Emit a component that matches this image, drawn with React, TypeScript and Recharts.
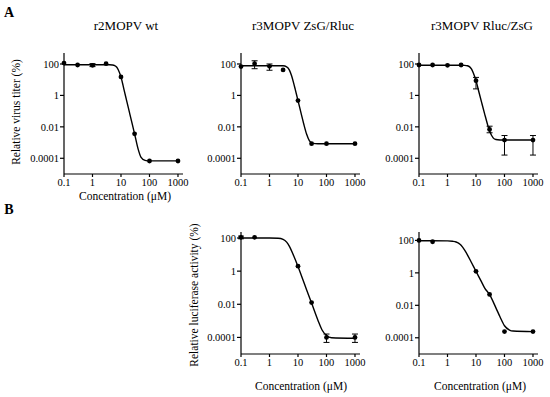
import React from 'react'
import { ComposedChart, Line, Scatter, XAxis, YAxis, ErrorBar } from 'recharts'

// concentrations (µM)
const concFull = [0.1, 0.3, 1, 3, 10, 30, 100, 1000]
const concShort = [0.1, 0.3, 10, 30, 100, 1000]
const xTicks = [0.1, 1, 10, 100, 1000]
const yTicks = [0.0001, 0.01, 1, 100]

// A: relative virus titer (%)
const wtTiter = [115, 86, 82, 105, 15, 0.0036, 0.000067, 0.000067]
const wtErr = [null, null, [68, 105], null, null, null, null, null]
const zsgRlucTiter = [68, 105, 71, 42, 0.47, 0.00085, 0.00085, 0.00085]
const zsgRlucErr = [null, [50, 160], [40, 100], null, null, null, null, null]
const rlucZsgTiter = [86, 86, 82, 86, 8.7, 0.0068, 0.00144, 0.00144]
const rlucZsgErr = [null, null, null, null, [2.6, 14], [0.0042, 0.011], [0.00016, 0.0028], [0.00016, 0.0028]]

// fitted curves, top row
const fitConcTop = [0.1, 1, 3, 4, 5, 6, 7, 8, 10, 13, 16, 20, 25, 30, 40, 50, 70, 100, 1000]
const wtFit = [90, 90, 90, 89.5, 87, 80, 64, 43, 15, 2.0, 0.42, 0.077, 0.0142, 0.0036, 0.00038, 0.00012, 0.000074, 0.000068, 0.000068]
const zsgRlucFit = [78, 78, 76.5, 66.6, 40.8, 17, 6.3, 2.44, 0.47, 0.067, 0.0147, 0.0035, 0.00134, 0.00097, 0.00086, 0.00085, 0.00085, 0.00085, 0.00085]
const rlucZsgFit = [83, 83, 83, 81.7, 77.3, 65.5, 46.5, 27.7, 8.7, 1.37, 0.324, 0.07, 0.0157, 0.0054, 0.002, 0.00156, 0.00147, 0.00145, 0.00145]

// B: relative luciferase activity (%)
const zsgRlucLuc = [110, 110, 2.0, 0.0126, 0.0001, 0.0001]
const zsgRlucLucErr = [[90, 130], null, null, null, [0.00005, 0.00016], [0.00005, 0.00016]]
const rlucZsgLuc = [100, 83, 1.25, 0.047, 0.00024, 0.00024]
const rlucZsgLucErr = [null, null, null, null, null, null]

const fitConcLucA = [0.1, 1, 2, 3, 4, 5, 7, 10, 15, 20, 30, 50, 70, 100, 150, 1000]
const zsgRlucLucFit = [100, 100, 97, 83, 56, 31, 8.7, 1.9, 0.29, 0.075, 0.0118, 0.0011, 0.00028, 0.00013, 0.000096, 0.00009]
const fitConcLucB = [0.1, 1, 1.5, 2, 2.5, 3, 4, 5, 7, 10, 15, 20, 30, 50, 70, 100, 150, 200, 1000]
const rlucZsgLucFit = [95, 93, 88, 80, 66, 50, 25, 13, 4.2, 1.25, 0.32, 0.12, 0.045, 0.007, 0.0019, 0.00055, 0.0003, 0.00026, 0.00024]

const FONT = '"Liberation Serif", "Times New Roman", serif'

type Range = number[] | null

function toPoints(xs: number[], ys: number[], errs: Range[]) {
  return xs.map((x, i) => ({
    x,
    y: ys[i],
    err: errs[i] ? [ys[i] - errs[i]![0], errs[i]![1] - ys[i]] : null,
  }))
}

function toCurve(xs: number[], ys: number[]) {
  return xs.map((x, i) => ({ x, y: ys[i] }))
}

// custom tick text so the serif font sticks
const XTick = (p: any) => (
  <text x={p.x} y={p.y} dy="0.75em" textAnchor="middle" fill="#000" style={{ fontFamily: FONT, fontSize: 10.5 }}>
    {String(p.payload.value)}
  </text>
)
const YTick = (p: any) => (
  <text x={p.x} y={p.y} dy="0.35em" textAnchor="end" fill="#000" style={{ fontFamily: FONT, fontSize: 10.5 }}>
    {String(p.payload.value)}
  </text>
)

interface PanelProps {
  left: number
  top: number
  w: number
  h: number
  yMax: number
  points: { x: number; y: number; err: number[] | null }[]
  curve: { x: number; y: number }[]
}

const YW = 45
const XH = 24
const PAD_T = 6
const PAD_R = 10

function Panel({ left, top, w, h, yMax, points, curve }: PanelProps) {
  return (
    <div style={{ position: 'absolute', left: left - YW, top: top - PAD_T }}>
      <ComposedChart
        width={w + YW + PAD_R}
        height={h + PAD_T + XH}
        margin={{ top: PAD_T, right: PAD_R, bottom: 0, left: 0 }}
      >
        <XAxis
          dataKey="x"
          type="number"
          scale="log"
          domain={[0.1, 1500]}
          ticks={xTicks}
          interval={0}
          tick={<XTick />}
          tickSize={3}
          tickMargin={1}
          height={XH}
          axisLine={{ stroke: '#000', strokeWidth: 1.2 }}
          tickLine={{ stroke: '#000', strokeWidth: 1.2 }}
        />
        <YAxis
          dataKey="y"
          type="number"
          scale="log"
          domain={[0.00001, yMax]}
          ticks={yTicks}
          interval={0}
          tick={<YTick />}
          tickSize={4}
          tickMargin={1}
          width={YW}
          axisLine={{ stroke: '#000', strokeWidth: 1.2 }}
          tickLine={{ stroke: '#000', strokeWidth: 1.2 }}
        />
        <Line
          data={curve}
          dataKey="y"
          type="monotone"
          stroke="#000"
          strokeWidth={1.4}
          dot={false}
          activeDot={false}
          isAnimationActive={false}
        />
        <Scatter
          data={points}
          dataKey="y"
          isAnimationActive={false}
          shape={(p: any) => <circle cx={p.cx} cy={p.cy} r={2.4} fill="#000" />}
        >
          <ErrorBar dataKey="err" direction="y" width={3} stroke="#000" strokeWidth={1} />
        </Scatter>
      </ComposedChart>
    </div>
  )
}

function Txt({ x, y, size, children, bold, rotate }: { x: number; y: number; size: number; children: React.ReactNode; bold?: boolean; rotate?: boolean }) {
  return (
    <div
      style={{
        position: 'absolute',
        left: x,
        top: y,
        transform: `translate(-50%, -50%)${rotate ? ' rotate(-90deg)' : ''}`,
        fontFamily: FONT,
        fontSize: size,
        fontWeight: bold ? 'bold' : 'normal',
        lineHeight: 1,
        whiteSpace: 'nowrap',
        color: '#000',
      }}
    >
      {children}
    </div>
  )
}

export default function App() {
  const topY = 53
  const topH = 121
  const botY = 232
  const botH = 122
  const pw = 119
  return (
    <div style={{ position: 'absolute', left: 0, top: 0, width: 550, height: 397, background: '#fff', overflow: 'hidden', fontFamily: FONT }}>
      <Txt x={9} y={13} size={14} bold>A</Txt>
      <Txt x={9} y={210} size={14} bold>B</Txt>

      <Txt x={126} y={25} size={13}>r2MOPV wt</Txt>
      <Txt x={303} y={25} size={13}>r3MOPV ZsG/Rluc</Txt>
      <Txt x={482} y={25} size={13}>r3MOPV Rluc/ZsG</Txt>

      <Txt x={17} y={112} size={11.5} rotate>Relative virus titer (%)</Txt>
      <Txt x={195} y={295} size={11.5} rotate>Relative luciferase activity (%)</Txt>

      <Txt x={125} y={197} size={11.5}>Concentration (μM)</Txt>
      <Txt x={301} y={387} size={11.5}>Concentration (μM)</Txt>
      <Txt x={480} y={387} size={11.5}>Concentration (μM)</Txt>

      <Panel left={64} top={topY} w={pw} h={topH} yMax={500}
        points={toPoints(concFull, wtTiter, wtErr)} curve={toCurve(fitConcTop, wtFit)} />
      <Panel left={241} top={topY} w={pw} h={topH} yMax={500}
        points={toPoints(concFull, zsgRlucTiter, zsgRlucErr)} curve={toCurve(fitConcTop, zsgRlucFit)} />
      <Panel left={419} top={topY} w={pw} h={topH} yMax={500}
        points={toPoints(concFull, rlucZsgTiter, rlucZsgErr)} curve={toCurve(fitConcTop, rlucZsgFit)} />

      <Panel left={241} top={botY} w={pw} h={botH} yMax={230}
        points={toPoints(concShort, zsgRlucLuc, zsgRlucLucErr)} curve={toCurve(fitConcLucA, zsgRlucLucFit)} />
      <Panel left={419} top={botY} w={pw} h={botH} yMax={330}
        points={toPoints(concShort, rlucZsgLuc, rlucZsgLucErr)} curve={toCurve(fitConcLucB, rlucZsgLucFit)} />
    </div>
  )
}
